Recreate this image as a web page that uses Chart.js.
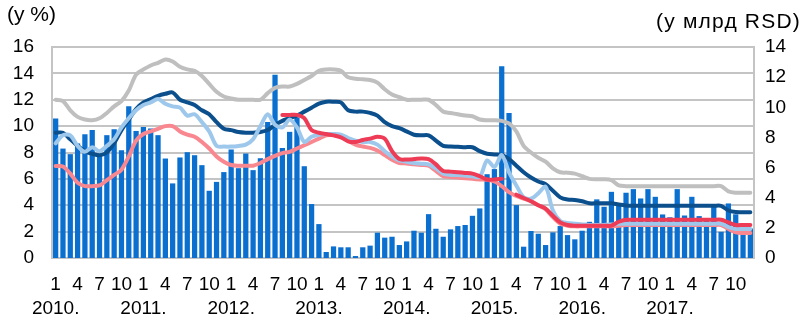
<!DOCTYPE html>
<html><head><meta charset="utf-8">
<script src="https://cdn.jsdelivr.net/npm/chart.js@4.4.1/dist/chart.umd.min.js"></script>
<style>html,body{margin:0;padding:0;background:#fff;overflow:hidden}#c{display:block}</style>
</head><body>
<canvas id="c" width="804" height="318"></canvas>
<script>
const years = ['2010.', '2011.', '2012.', '2013.', '2014.', '2015.', '2016.', '2017.'];
const monthTicks = ['1', '4', '7', '10'];
const leftAxisTitle = '(у %)';
const rightAxisTitle = '(у млрд RSD)';

// bars, right axis (у млрд RSD)
const barValues = [
  9.25, 7.26, 6.89, 7.6, 8.21, 8.5, 6.93, 8.15, 8.55, 7.15, 10.07, 8.43,
  8.7, 8.59, 8.15, 6.6, 4.95, 6.67, 7.02, 6.82, 6.16, 4.46, 5.05, 5.7,
  7.2, 5.96, 6.93, 5.83, 6.62, 9.03, 12.16, 7.3, 8.37, 9.32, 6.09, 3.58,
  2.25, 0.4, 0.77, 0.71, 0.71, 0.13, 0.71, 0.82, 1.68, 1.35, 1.41, 0.86,
  1.1, 1.81, 1.68, 2.91, 1.94, 1.41, 1.9, 2.12, 2.19, 2.8, 3.29, 5.56,
  5.9, 12.72, 9.62, 3.51, 0.75, 1.79, 1.61, 0.86, 1.7, 2.12, 1.52, 1.24,
  1.81, 2.4, 3.89, 3.4, 4.39, 3.6, 4.33, 4.57, 3.95, 4.57, 4.06, 2.89,
  2.7, 4.57, 2.82, 4.06, 2.78, 2.6, 3.5, 1.74, 3.62, 2.9, 1.9, 1.96
];
// lines, left axis (у %)
const grayLine = [
  12.0, 11.9, 11.2, 10.7, 10.5, 10.45, 10.6, 11.0, 11.5, 11.9, 12.7, 13.9,
  14.3, 14.6, 14.8, 15.05, 14.9, 14.5, 14.3, 14.2, 13.8, 13.2, 12.6, 12.25,
  12.1, 12.0, 12.0, 12.0, 12.0, 12.5, 12.9, 13.0, 13.0, 13.2, 13.5, 13.8,
  14.2, 14.3, 14.3, 14.2, 13.7, 13.6, 13.55, 13.5, 13.3, 12.8, 12.4, 12.2,
  12.0, 12.0, 12.0, 12.0, 11.6, 11.1, 11.0, 10.9, 10.8, 10.75, 10.5, 10.45,
  10.45, 10.4, 10.2, 9.6, 8.5, 8.0, 7.6, 7.3, 6.8, 6.5, 6.47, 6.4,
  6.2, 6.0, 5.97, 5.97, 5.9, 5.5, 5.45, 5.45, 5.45, 5.45, 5.45, 5.45,
  5.45, 5.45, 5.45, 5.45, 5.45, 5.45, 5.45, 5.45, 5.05, 4.95, 4.95, 4.95
];
const darkBlueLine = [
  9.5, 9.5, 9.0, 8.5, 8.1, 7.9, 7.8, 8.0, 8.7, 9.7, 10.5, 11.3,
  11.8, 12.05, 12.3, 12.45, 12.55, 12.0, 11.8, 11.6, 11.2, 10.9, 10.3, 9.8,
  9.7, 9.55, 9.5, 9.5, 9.55, 9.7, 10.1, 10.4, 10.6, 10.8, 11.1, 11.4,
  11.7, 11.85, 11.85, 11.8, 11.2, 11.1, 11.1, 11.0, 10.8, 10.3, 10.0, 9.85,
  9.6, 9.35, 9.3, 9.3, 8.9, 8.5, 8.45, 8.43, 8.4, 8.4, 8.1, 7.9,
  7.85, 7.8, 7.5, 7.0, 6.5, 6.1, 5.8, 5.6, 5.1, 4.6, 4.43, 4.4,
  4.3, 4.15, 4.15, 4.15, 4.15, 4.05, 3.98, 3.96, 3.96, 3.96, 3.96, 3.96,
  3.96, 3.96, 3.96, 3.96, 3.96, 3.96, 3.96, 3.96, 3.6, 3.48, 3.47, 3.47
];
const lightBlueLine = [
  8.7, 9.3, 9.3, 8.5, 8.05, 8.4, 8.1, 8.5, 9.0, 9.9, 10.6, 11.2,
  11.6, 11.8, 12.05, 11.7, 11.5, 11.4, 10.8, 10.9, 10.3, 9.6, 8.5, 8.45,
  8.45, 8.5, 8.6, 9.0, 10.0, 10.9, 10.1, 9.9, 10.5, 9.9, 8.8, 9.2,
  9.35, 9.4, 9.4, 9.35, 9.1, 8.9, 8.8, 8.8, 8.6, 8.1, 7.7, 7.4,
  7.3, 7.2, 7.15, 7.1, 6.8, 6.4, 6.3, 6.3, 6.25, 6.2, 6.15, 7.4,
  6.9, 7.8, 6.5, 5.5, 4.6, 4.5, 4.9, 5.4, 3.6, 2.8, 2.65, 2.6,
  2.55, 2.5, 2.5, 2.5, 2.55, 2.6, 2.6, 2.6, 2.6, 2.6, 2.6, 2.6,
  2.6, 2.6, 2.6, 2.6, 2.6, 2.6, 2.6, 2.6, 2.35, 2.2, 2.2, 2.2
];
const pinkLine = [
  6.97, 6.94, 6.4, 5.7, 5.45, 5.45, 5.5, 5.9, 6.3, 6.7, 7.7, 8.9,
  9.4, 9.6, 9.8, 10.0, 10.0, 9.6, 9.35, 9.2, 8.8, 8.3, 7.7, 7.3,
  7.05, 7.0, 7.0, 7.0, 7.2, 7.5, 7.75, 7.95, 8.05, 8.3, 8.55, 8.8,
  9.05, 9.3, 9.35, 9.25, 8.9, 8.6, 8.45, 8.35, 8.15, 7.8, 7.45, 7.2,
  7.17, 7.1, 7.05, 7.0, 6.6, 6.2, 6.15, 6.1, 6.05, 6.0, 5.96, 5.93,
  5.8, 5.45, 5.0, 4.7, 4.5, 4.3, 4.0, 3.7, 3.1, 2.6, 2.45, 2.4,
  2.4, 2.4, 2.4, 2.4, 2.4, 2.45, 2.5, 2.5, 2.5, 2.5, 2.5, 2.5,
  2.5, 2.5, 2.5, 2.5, 2.5, 2.5, 2.5, 2.5, 2.2, 1.95, 1.9, 1.9
];
const redLine = [
  null, null, null, null, null, null, null, null, null, null, null, null,
  null, null, null, null, null, null, null, null, null, null, null, null,
  null, null, null, null, null, null, null, 10.85, 10.85, 10.85, 10.6, 9.7,
  9.5, 9.4, 9.3, 9.15, 8.85, 8.8, 8.95, 9.05, 9.2, 9.05, 8.1, 7.5,
  7.47, 7.5, 7.55, 7.5, 7.1, 6.6, 6.55, 6.5, 6.45, 6.4, 6.2, 5.95,
  5.95, 6.0, null, 4.8, 4.55, 4.3, 4.0, 3.75, 3.2, 2.7, 2.5, 2.45,
  2.45, 2.45, 2.45, 2.45, 2.45, 2.75, 2.9, 2.9, 2.9, 2.9, 2.9, 2.9,
  2.9, 2.9, 2.9, 2.9, 2.9, 2.9, 2.9, 2.9, 2.7, 2.5, 2.5, 2.5
];

const labels = [];
years.forEach(function (yr) {
  for (let m = 0; m < 12; m++) {
    if (m % 3 === 0) {
      const t = monthTicks[m / 3];
      labels.push(m === 0 ? [t, yr] : t);
    } else {
      labels.push('');
    }
  }
});

const FONT = 'Liberation Sans, Arial, sans-serif';
const gridColor = '#c4c4c4';

const titlePlugin = {
  id: 'axisTitles',
  afterDraw(chart) {
    const ctx = chart.ctx;
    ctx.save();
    ctx.fillStyle = '#000';
    ctx.textBaseline = 'middle';
    ctx.font = '21px ' + FONT;
    ctx.textAlign = 'left';
    ctx.fillText(leftAxisTitle, 7, 15);
    ctx.textAlign = 'right';
    try { ctx.letterSpacing = '1.2px'; } catch (e) {}
    ctx.fillText(rightAxisTitle, 801, 22);
    ctx.restore();
  }
};

function lineDs(data, color, order) {
  return {
    type: 'line', data: data, borderColor: color, backgroundColor: color,
    borderWidth: 4, pointRadius: 0, tension: 0.3, yAxisID: 'y', order: order,
    spanGaps: false, borderCapStyle: 'round', borderJoinStyle: 'round'
  };
}

new Chart(document.getElementById('c'), {
  data: {
    labels: labels,
    datasets: [
      lineDs(redLine, '#ee3b56', 1),
      lineDs(lightBlueLine, '#9dc8ec', 2),
      lineDs(pinkLine, '#f9878f', 3),
      lineDs(darkBlueLine, '#0b4f8d', 4),
      lineDs(grayLine, '#bfbfbf', 5),
      {
        type: 'bar', data: barValues, backgroundColor: '#0a6fcf', yAxisID: 'y2',
        order: 10, categoryPercentage: 1, barPercentage: 0.72
      }
    ]
  },
  options: {
    responsive: false, animation: false, devicePixelRatio: 1,
    layout: { padding: { top: 47, left: 0, right: 0, bottom: 0 } },
    plugins: { legend: { display: false }, tooltip: { enabled: false } },
    scales: {
      x: {
        offset: true,
        grid: { display: false, drawTicks: false },
        border: { display: false },
        ticks: {
          autoSkip: false, maxRotation: 0, minRotation: 0, padding: 15,
          color: '#000', font: { family: FONT, size: 19, lineHeight: 1.25 }
        },
        afterFit(s) { s.height = 60; }
      },
      y: {
        position: 'left', min: 0, max: 16,
        ticks: { stepSize: 2, padding: 18, color: '#000', font: { family: FONT, size: 19 } },
        grid: { color: gridColor, lineWidth: 2, drawTicks: false },
        border: { display: true, color: gridColor, width: 2 },
        afterFit(s) { s.width = 52; }
      },
      y2: {
        position: 'right', min: 0, max: 14,
        ticks: { stepSize: 2, padding: 11, color: '#000', font: { family: FONT, size: 19 } },
        grid: { display: false, drawTicks: false },
        border: { display: true, color: gridColor, width: 2 },
        afterFit(s) { s.width = 50; }
      }
    }
  },
  plugins: [titlePlugin]
});
</script>
</body></html>
